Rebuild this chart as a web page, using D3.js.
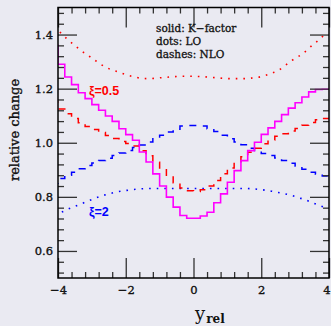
<!DOCTYPE html>
<html><head><meta charset="utf-8">
<script src="https://cdn.jsdelivr.net/npm/d3@7"></script>
<style>
html,body{margin:0;padding:0;background:#eaeaf2;}
svg{display:block;}
</style></head>
<body><svg id="c" width="331" height="326"></svg>
<script>
// bin lower edges (bin width 0.2); first bin lies just outside the frame and is clipped
const binStart = [-4.2,-4.0,-3.8,-3.6,-3.4,-3.2,-3.0,-2.8,-2.6,-2.4,-2.2,-2.0,-1.8,-1.6,-1.4,-1.2,-1.0,-0.8,-0.6,-0.4,-0.2,
  0.0,0.2,0.4,0.6,0.8,1.0,1.2,1.4,1.6,1.8,2.0,2.2,2.4,2.6,2.8,3.0,3.2,3.4,3.6,3.8];
const binEnd = 4.0;
const binCenter = [-4.1,-3.9,-3.7,-3.5,-3.3,-3.1,-2.9,-2.7,-2.5,-2.3,-2.1,-1.9,-1.7,-1.5,-1.3,-1.1,-0.9,-0.7,-0.5,-0.3,-0.1,
  0.1,0.3,0.5,0.7,0.9,1.1,1.3,1.5,1.7,1.9,2.1,2.3,2.5,2.7,2.9,3.1,3.3,3.5,3.7,3.9];

// solid: K-factor
const kFactor = [1.36,1.29,1.243,1.215,1.185,1.163,1.141,1.120,1.099,1.079,1.052,1.030,1.009,0.966,0.929,0.885,0.840,0.799,0.762,0.731,0.721,
  0.721,0.729,0.743,0.778,0.811,0.854,0.897,0.934,0.971,1.002,1.031,1.055,1.079,1.104,1.128,1.148,1.169,1.188,1.197,1.198];
// dashes: NLO, xi = 0.5 (red)
const nloXi05 = [1.15,1.125,1.107,1.090,1.074,1.060,1.049,1.038,1.027,1.016,1.005,0.997,0.988,0.970,0.952,0.928,0.903,0.877,0.852,0.833,0.823,
  0.820,0.826,0.840,0.860,0.885,0.907,0.930,0.948,0.965,0.980,0.996,1.010,1.024,1.033,1.043,1.053,1.065,1.075,1.085,1.090];
// dashes: NLO, xi = 2 (blue)
const nloXi2 = [0.850,0.868,0.880,0.891,0.904,0.916,0.925,0.934,0.943,0.953,0.962,0.971,0.982,0.992,1.003,1.015,1.028,1.040,1.050,1.062,1.064,
  1.064,1.062,1.052,1.042,1.028,1.015,1.003,0.993,0.980,0.968,0.960,0.953,0.944,0.934,0.924,0.914,0.902,0.891,0.884,0.877];
// dots: LO, xi = 0.5 (red)
const loXi05 = [1.430,1.404,1.380,1.359,1.339,1.322,1.304,1.287,1.274,1.265,1.256,1.248,1.242,1.238,1.237,1.239,1.241,1.243,1.245,1.246,1.246,
  1.245,1.244,1.242,1.240,1.238,1.237,1.237,1.237,1.239,1.242,1.248,1.257,1.267,1.285,1.304,1.319,1.337,1.360,1.380,1.404];
// dots: LO, xi = 2 (blue)
const loXi2 = [0.735,0.743,0.755,0.765,0.775,0.785,0.795,0.804,0.811,0.817,0.822,0.825,0.828,0.830,0.831,0.831,0.831,0.831,0.831,0.831,0.831,
  0.831,0.831,0.831,0.831,0.831,0.831,0.831,0.831,0.830,0.828,0.825,0.821,0.816,0.811,0.805,0.797,0.789,0.779,0.769,0.760];

const xMajor = [-4,-2,0,2,4];
const xMinor = [-3.6,-3.2,-2.8,-2.4,-1.6,-1.2,-0.8,-0.4,0.4,0.8,1.2,1.6,2.4,2.8,3.2,3.6];
const yMajor = [0.6,0.8,1.0,1.2,1.4];
const yMinor = [0.52,0.56,0.64,0.68,0.72,0.76,0.84,0.88,0.92,0.96,1.04,1.08,1.12,1.16,1.24,1.28,1.32,1.36,1.44,1.48];

const L = 58, R = 329, T = 7.5, B = 278;
const svg = d3.select("#c");
const x = d3.scaleLinear([-4,4],[L,R]);
const y = d3.scaleLinear([0.5,1.5],[B,T]);

svg.append("defs").append("clipPath").attr("id","clip")
  .append("rect").attr("x",L).attr("y",T).attr("width",R-L).attr("height",B-T);

const g = svg.append("g").attr("clip-path","url(#clip)");

function stepPts(vals){
  const pts = binStart.map((s,i)=>[s,vals[i]]);
  pts.push([binEnd, vals[vals.length-1]]);
  return pts;
}
const stepLine = d3.line().x(d=>x(d[0])).y(d=>y(d[1])).curve(d3.curveStepAfter);
const smoothLine = d3.line().x(d=>x(d[0])).y(d=>y(d[1])).curve(d3.curveMonotoneX);

// dotted LO
g.append("path").attr("d", smoothLine(binCenter.map((c,i)=>[c,loXi05[i]])))
  .attr("fill","none").attr("stroke","#ff0000").attr("stroke-width",1.6).attr("stroke-dasharray","1.6,6");
g.append("path").attr("d", smoothLine(binCenter.map((c,i)=>[c,loXi2[i]])))
  .attr("fill","none").attr("stroke","#0000ff").attr("stroke-width",1.6).attr("stroke-dasharray","1.6,6");
// dashed NLO
g.append("path").attr("d", stepLine(stepPts(nloXi05)))
  .attr("fill","none").attr("stroke","#ff0000").attr("stroke-width",1.5).attr("stroke-dasharray","7,7");
g.append("path").attr("d", stepLine(stepPts(nloXi2)))
  .attr("fill","none").attr("stroke","#0000ff").attr("stroke-width",1.5).attr("stroke-dasharray","7,7");
// solid K-factor
g.append("path").attr("d", stepLine(stepPts(kFactor)))
  .attr("fill","none").attr("stroke","#ff00ff").attr("stroke-width",1.6);

// axes
const tickCol = "#333";
function styleAxis(sel){
  sel.select(".domain").remove();
  sel.selectAll(".tick line").attr("stroke",tickCol).attr("stroke-width",1.3);
  sel.selectAll("text").attr("font-family","DejaVu Serif").attr("font-size",11.5).attr("fill","#111")
    .attr("stroke","#111").attr("stroke-width",0.35);
}
const fmtY = d3.format(".1f");
svg.append("g").attr("transform",`translate(${L},0)`)
  .call(d3.axisLeft(y).tickValues(yMajor).tickSize(-19).tickPadding(5).tickFormat(fmtY)).call(styleAxis);
svg.append("g").attr("transform",`translate(${L},0)`)
  .call(d3.axisLeft(y).tickValues(yMinor).tickSize(-6).tickFormat("")).call(styleAxis);
svg.append("g").attr("transform",`translate(${R},0)`)
  .call(d3.axisRight(y).tickValues(yMajor).tickSize(-19).tickFormat("")).call(styleAxis);
svg.append("g").attr("transform",`translate(${R},0)`)
  .call(d3.axisRight(y).tickValues(yMinor).tickSize(-6).tickFormat("")).call(styleAxis);
const bx = svg.append("g").attr("transform",`translate(0,${B})`)
  .call(d3.axisBottom(x).tickValues(xMajor).tickSize(-20).tickPadding(8).tickFormat(d3.format("d"))).call(styleAxis);
// keep the last label inside the window
bx.selectAll(".tick text").filter(d=>d===4).attr("dx",-2.5);
svg.append("g").attr("transform",`translate(0,${B})`)
  .call(d3.axisBottom(x).tickValues(xMinor).tickSize(-6).tickFormat("")).call(styleAxis);
svg.append("g").attr("transform",`translate(0,${T})`)
  .call(d3.axisTop(x).tickValues(xMajor).tickSize(-20).tickFormat("")).call(styleAxis);
svg.append("g").attr("transform",`translate(0,${T})`)
  .call(d3.axisTop(x).tickValues(xMinor).tickSize(-6).tickFormat("")).call(styleAxis);

// frame
svg.append("rect").attr("x",L).attr("y",T).attr("width",R-L).attr("height",B-T)
  .attr("fill","none").attr("stroke","#000").attr("stroke-width",1.5);

// legend text
const legendLines = ["solid: K\u2212factor","dots: LO","dashes: NLO"];
svg.append("g").selectAll("text").data(legendLines).join("text")
  .attr("x",156).attr("y",(d,i)=>32+i*13)
  .attr("font-family","DejaVu Serif").attr("font-size",10.5).attr("fill","#111")
  .attr("stroke","#111").attr("stroke-width",0.3)
  .text(d=>d);

// curve labels
svg.append("text").attr("x",89).attr("y",95).attr("font-family","Liberation Sans")
  .attr("font-weight","bold").attr("font-size",12.5).attr("fill","#ff0000").text("\u03be=0.5");
svg.append("text").attr("x",89).attr("y",216).attr("font-family","Liberation Sans")
  .attr("font-weight","bold").attr("font-size",12.5).attr("fill","#0000ff").text("\u03be=2");

// axis titles
svg.append("text").attr("transform","translate(19,130) rotate(-90)").attr("text-anchor","middle")
  .attr("font-family","DejaVu Serif").attr("font-size",13).attr("fill","#111")
  .attr("stroke","#111").attr("stroke-width",0.35).text("relative change");
const xt = svg.append("text").attr("x",195).attr("y",320).attr("font-family","DejaVu Serif").attr("fill","#111");
xt.append("tspan").attr("font-size",18).text("y");
xt.append("tspan").attr("font-size",12).attr("font-weight","bold").attr("dy",3).attr("dx",1).text("rel");
</script></body></html>
